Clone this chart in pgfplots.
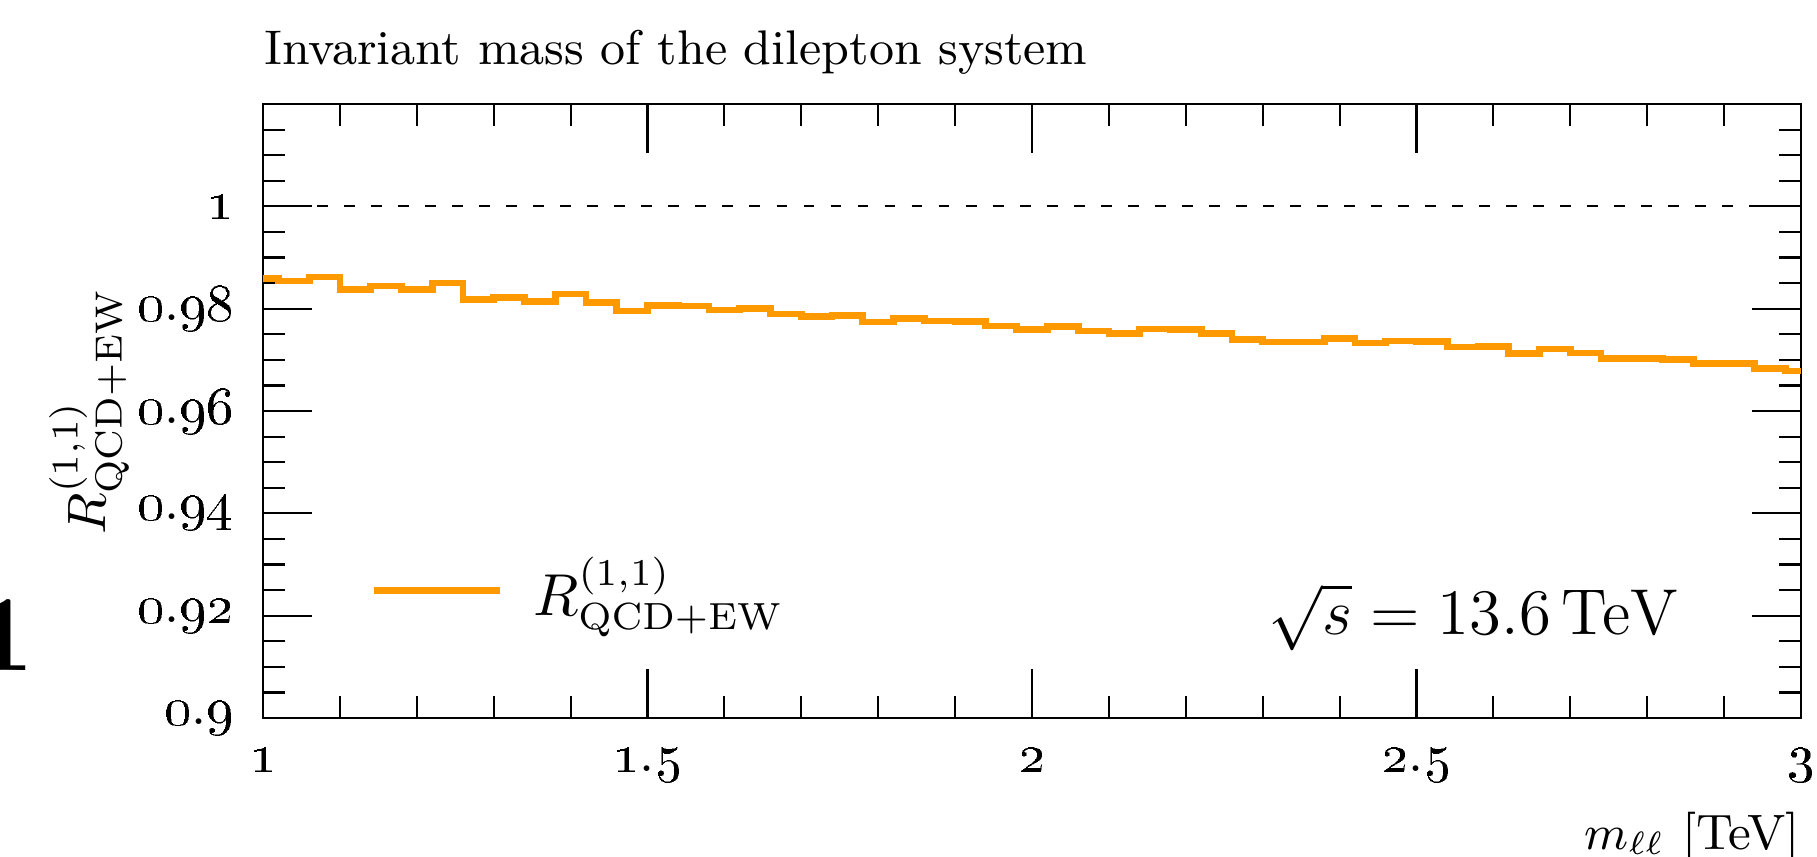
\documentclass[border=0pt]{standalone}
\usepackage{pgfplots}
\pgfplotsset{compat=1.18}
\definecolor{historange}{RGB}{255,153,0}

\newcommand{\os}[1]{\oldstylenums{#1}}

\begin{document}
\begin{tikzpicture}
\begin{axis}[
  name=ax,
  scale only axis,
  width=284.53pt, height=113.59pt,
  xmin=1, xmax=3, ymin=0.9, ymax=1.02,
  xtick={1,1.5,2,2.5,3},
  xticklabels={\os{1}, \os{1}.\os{5}, \os{2}, \os{2}.\os{5}, \os{3}},
  minor xtick={1.1,1.2,1.3,1.4,1.6,1.7,1.8,1.9,2.1,2.2,2.3,2.4,2.6,2.7,2.8,2.9},
  ytick={0.9,0.92,0.94,0.96,0.98,1},
  yticklabels={\os{0}.\os{9}, \os{0}.\os{92}, \os{0}.\os{94}, \os{0}.\os{96}, \os{0}.\os{98}, \os{1}},
  minor ytick={0.905,0.91,0.915,0.925,0.93,0.935,0.945,0.95,0.955,0.965,0.97,0.975,0.985,0.99,0.995,1.005,1.01,1.015},
  tick align=inside,
  major tick length=9pt, minor tick length=4pt,
  every tick/.style={black, line width=0.4pt},
  axis line style={black, line width=0.4pt},
  xticklabel style={font=\fontsize{10}{12}\selectfont, inner sep=0pt, anchor=north, yshift=-5.4pt},
  yticklabel style={font=\fontsize{10}{12}\selectfont, inner sep=0pt, anchor=east, xshift=-5.2pt},
  title={Invariant mass of the dilepton system},
  every axis title/.style={at={(rel axis cs:0,1)}, anchor=base west, yshift=7.4pt,
    inner sep=0pt, font=\fontsize{9}{11}\selectfont},
  xlabel={$m_{\ell\ell}$ [TeV]},
  xlabel style={at={(rel axis cs:1,-0.2134)}, anchor=base east, inner sep=0pt,
    font=\fontsize{9.2}{11}\selectfont},
  ylabel={$R^{(1,1)}_{\mathrm{QCD+EW}}$},
  ylabel style={at={(rel axis cs:-0.0865,0.5)}, anchor=south, rotate=0, inner sep=0pt,
    font=\fontsize{10.4}{12}\selectfont},
  legend style={at={(rel axis cs:0.0702,0.2073)}, anchor=west, draw=none, fill=none,
    inner sep=0pt, outer sep=0pt, column sep=5.5pt,
    font=\fontsize{10.6}{12}\selectfont, nodes={inner sep=0pt}},
  legend image code/.code={\draw[#1] (0pt,0pt) -- (23.3pt,0pt);},
  clip=true,
]
% reference line at unity
\addplot[black, line width=0.4pt, dash pattern=on 2pt off 3pt, forget plot]
  coordinates {(1,1) (3,1)};
% binned ratio, bins of width 0.04 TeV
\addplot[historange, line width=1.25pt, const plot mark left] table[x=x, y=y] {
x y
1.00 0.98588
1.02 0.98541
1.06 0.98620
1.10 0.98372
1.14 0.98444
1.18 0.98372
1.22 0.98502
1.26 0.98184
1.30 0.98216
1.34 0.98145
1.38 0.98288
1.42 0.98119
1.46 0.97956
1.50 0.98066
1.54 0.98050
1.58 0.97975
1.62 0.98001
1.66 0.97897
1.70 0.97852
1.74 0.97865
1.78 0.97741
1.82 0.97806
1.86 0.97760
1.90 0.97747
1.94 0.97663
1.98 0.97591
2.02 0.97656
2.06 0.97565
2.10 0.97513
2.14 0.97604
2.18 0.97591
2.22 0.97513
2.26 0.97396
2.30 0.97350
2.34 0.97350
2.38 0.97415
2.42 0.97331
2.46 0.97370
2.50 0.97357
2.54 0.97253
2.58 0.97266
2.62 0.97122
2.66 0.97214
2.70 0.97135
2.74 0.97031
2.78 0.97031
2.82 0.97005
2.86 0.96927
2.90 0.96934
2.94 0.96836
2.98 0.96784
3.00 0.96784
};
\addlegendentry{$R^{(1,1)}_{\mathrm{QCD+EW}}$}
\node[anchor=base east, inner sep=0pt, font=\fontsize{11.8}{13}\selectfont]
  at (rel axis cs:0.9213,0.1352) {$\sqrt{s} = 13.6\,\mathrm{TeV}$};
\end{axis}
% stray glyph at the left margin
\node[anchor=base, inner sep=0pt, font=\fontsize{20}{22}\bfseries\selectfont]
  at ([shift={(-48.0pt,8.88pt)}]ax.south west) {1};
\pgfresetboundingbox
\path[use as bounding box] ([shift={(-48.655pt,-25.53pt)}]ax.south west)
  rectangle ([shift={(2.96pt,19.24pt)}]ax.north east);
\end{tikzpicture}
\end{document}
